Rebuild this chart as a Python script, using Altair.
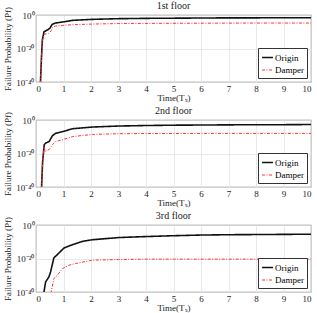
import altair as alt
import pandas as pd

# time (T_s) and log10 failure probability
f1_orig_t = [0.15, 0.20, 0.23, 0.29, 0.41, 0.50, 0.59, 0.71, 0.96, 1.33, 2.05, 3.0, 4.0, 5.0, 6.0, 7.0, 8.0, 9.0, 10.0]
f1_orig_e = [-45, -25, -15, -10, -9, -8, -5.6, -4.8, -4.2, -3.2, -2.6, -2.2, -2.0, -1.9, -1.8, -1.7, -1.7, -1.6, -1.6]
f1_damp_t = [0.15, 0.20, 0.24, 0.29, 0.45, 0.55, 0.60, 0.71, 0.96, 1.33, 2.05, 3.0, 4.0, 6.0, 8.0, 10.0]
f1_damp_e = [-45, -25, -15, -11.5, -11, -9.5, -7.5, -6.6, -6.2, -5.8, -5.4, -5.1, -5.0, -4.9, -4.8, -4.8]

f2_orig_t = [0.19, 0.24, 0.30, 0.36, 0.48, 0.60, 0.72, 0.96, 1.33, 2.05, 3.0, 4.0, 5.0, 6.0, 7.0, 8.0, 9.0, 10.0]
f2_orig_e = [-45, -25, -14.7, -13.7, -12.8, -9.3, -7.9, -7.0, -5.2, -4.2, -3.6, -3.3, -3.1, -3.0, -2.9, -2.8, -2.8, -2.7]
f2_damp_t = [0.19, 0.24, 0.30, 0.33, 0.48, 0.60, 0.72, 0.96, 1.33, 2.05, 3.0, 4.0, 6.0, 8.0, 10.0]
f2_damp_e = [-45, -25, -16, -18.6, -17.6, -14.7, -12.8, -11.8, -9.9, -8.6, -8.2, -8.1, -8.0, -8.0, -8.0]

f3_orig_t = [0.27, 0.29, 0.35, 0.47, 0.53, 0.65, 0.78, 1.02, 1.32, 1.68, 2.05, 3.0, 4.0, 5.0, 6.0, 7.0, 8.0, 9.0, 10.0]
f3_orig_e = [-45, -40, -34, -31, -28, -19.6, -17.6, -13.7, -11.8, -9.8, -8.8, -7.5, -6.9, -6.4, -6.0, -5.8, -5.7, -5.6, -5.5]
f3_damp_t = [0.52, 0.55, 0.65, 0.78, 0.96, 1.08, 1.20, 1.44, 2.05, 3.0, 4.0, 5.0, 6.0, 8.0, 10.0]
f3_damp_e = [-45, -40, -32, -30, -26, -25, -24, -23, -21, -20.6, -20.4, -20.4, -20.4, -20.4, -20.4]

titles = ["1st floor", "2nd floor", "3rd floor"]
series = ["Origin", "Damper"]

panels = [
    (f1_orig_t, f1_orig_e, f1_damp_t, f1_damp_e),
    (f2_orig_t, f2_orig_e, f2_damp_t, f2_damp_e),
    (f3_orig_t, f3_orig_e, f3_damp_t, f3_damp_e),
]

FONT = "'Liberation Serif', 'Times New Roman', Times, serif"
charts = []
for title, (ot, oe, dt, de) in zip(titles, panels):
    df = pd.concat([
        pd.DataFrame({"t": ot, "e": oe, "s": series[0]}),
        pd.DataFrame({"t": dt, "e": de, "s": series[1]}),
    ])
    c = alt.Chart(df).mark_line(clip=True).encode(
        x=alt.X("t:Q", scale=alt.Scale(domain=[0, 10], nice=False),
                axis=alt.Axis(title="Time(Tₛ)", values=list(range(0, 11)), format="d",
                              labelPadding=2, titlePadding=0)),
        y=alt.Y("e:Q", scale=alt.Scale(domain=[-40, 0], nice=False),
                axis=alt.Axis(title="Failure Probability (Pf)", values=[-40, -20, 0],
                              labelExpr="datum.value == 0 ? '10⁰' : (datum.value == -20 ? '10⁻²⁰' : '10⁻⁴⁰')",
                              labelPadding=2, titlePadding=3)),
        color=alt.Color("s:N", sort=series,
                        scale=alt.Scale(domain=series, range=["#111111", "#ff3030"]),
                        legend=alt.Legend(title=None, orient="bottom-right", offset=4,
                                          symbolType="stroke", symbolSize=120,
                                          symbolStrokeWidth=1.5,
                                          fillColor="white", strokeColor="#333",
                                          padding=3, rowPadding=1, labelFontSize=9,
                                          labelFont=FONT, labelOffset=1)),
        strokeDash=alt.StrokeDash("s:N", sort=series,
                                  scale=alt.Scale(domain=series, range=[[1, 0], [3, 1.5, 1, 1.5]]),
                                  legend=None),
        strokeWidth=alt.StrokeWidth("s:N", sort=series,
                                    scale=alt.Scale(domain=series, range=[1.6, 1.0]),
                                    legend=None),
    ).properties(
        width=275, height=67,
        title=alt.TitleParams(title, fontSize=10, font=FONT, fontWeight="normal",
                              offset=-4, color="#222"),
    )
    charts.append(c)

chart = alt.vconcat(*charts, spacing=2).resolve_scale(
    color="independent", strokeDash="independent", strokeWidth="independent"
).configure_axis(
    labelFont=FONT, titleFont=FONT, labelFontSize=9, titleFontSize=9,
    titleFontWeight="normal", labelColor="#222", titleColor="#222",
    grid=True, gridColor="#e3e3e3", gridWidth=0.8, ticks=False,
    domain=False,
).configure_view(
    stroke="#444", strokeWidth=0.8
).properties(
    padding={"left": 3, "top": 0, "right": 5, "bottom": 0}
)

chart.save("out.html", embed_options={"renderer": "svg", "actions": False})
